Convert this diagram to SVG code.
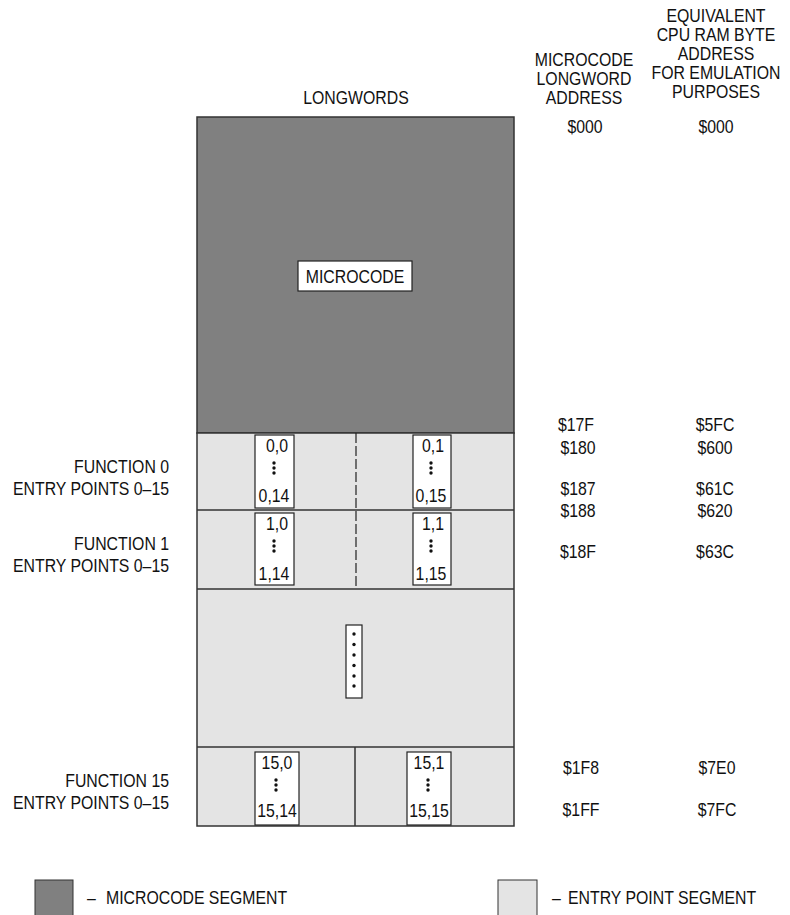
<svg xmlns="http://www.w3.org/2000/svg" width="790" height="915" viewBox="0 0 790 915">
<style>
text{font-family:"Liberation Sans",Arial,sans-serif;font-size:18px;fill:#111}
.m{text-anchor:middle}
.e{text-anchor:end}
.seg{stroke:#333;stroke-width:1.5}
.box{fill:#fff;stroke:#222;stroke-width:1.2}
.dot{fill:#111}
</style>
<defs>
<g id="dots3"><circle cx="0" cy="0" r="1.7" class="dot"/><circle cx="0" cy="5" r="1.7" class="dot"/><circle cx="0" cy="10" r="1.7" class="dot"/></g>
</defs>
<g id="headers">
<text class="m" transform="translate(356,104) scale(0.88,1)">LONGWORDS</text>
<text class="m" transform="translate(584,66) scale(0.88,1)">MICROCODE</text>
<text class="m" transform="translate(584,85) scale(0.88,1)">LONGWORD</text>
<text class="m" transform="translate(584,104) scale(0.88,1)">ADDRESS</text>
<text class="m" transform="translate(716,22) scale(0.88,1)">EQUIVALENT</text>
<text class="m" transform="translate(716,41) scale(0.88,1)">CPU RAM BYTE</text>
<text class="m" transform="translate(716,60) scale(0.88,1)">ADDRESS</text>
<text class="m" transform="translate(716,79) scale(0.88,1)">FOR EMULATION</text>
<text class="m" transform="translate(716,98) scale(0.88,1)">PURPOSES</text>
</g>
<g id="microcode-segment">
<rect x="197" y="117" width="317" height="316" fill="#808080" class="seg"/>
<rect x="298" y="261" width="114" height="30" class="box"/>
<text class="m" transform="translate(355,283) scale(0.88,1)">MICROCODE</text>
</g>
<g id="entry-segment">
<rect x="197" y="433" width="317" height="393" fill="#e4e4e4" class="seg"/>
</g>
<g id="connectors">
<line x1="197" y1="510" x2="514" y2="510" class="seg"/>
<line x1="197" y1="589" x2="514" y2="589" class="seg"/>
<line x1="197" y1="747" x2="514" y2="747" class="seg"/>
<line x1="356" y1="433" x2="356" y2="589" stroke="#222" stroke-width="1.2" stroke-dasharray="10,3"/>
<line x1="355" y1="747" x2="355" y2="826" class="seg"/>
</g>
<g id="f0e0">
<rect x="255" y="435" width="39" height="73" class="box"/>
<text class="m" transform="translate(277,452) scale(0.88,1)">0,0</text>
<use href="#dots3" x="274" y="463"/>
<text class="m" transform="translate(274,502) scale(0.88,1)">0,14</text>
</g>
<g id="f0e1">
<rect x="413" y="435" width="38" height="73" class="box"/>
<text class="m" transform="translate(433,452) scale(0.88,1)">0,1</text>
<use href="#dots3" x="431" y="463"/>
<text class="m" transform="translate(431,502) scale(0.88,1)">0,15</text>
</g>
<g id="f1e0">
<rect x="255" y="513" width="39" height="72" class="box"/>
<text class="m" transform="translate(277,530) scale(0.88,1)">1,0</text>
<use href="#dots3" x="274" y="541"/>
<text class="m" transform="translate(274,580) scale(0.88,1)">1,14</text>
</g>
<g id="f1e1">
<rect x="413" y="513" width="38" height="72" class="box"/>
<text class="m" transform="translate(433,530) scale(0.88,1)">1,1</text>
<use href="#dots3" x="431" y="541"/>
<text class="m" transform="translate(431,580) scale(0.88,1)">1,15</text>
</g>
<g id="ellipsis">
<rect x="346" y="625" width="16" height="73" class="box"/>
<circle cx="354" cy="634" r="1.7" class="dot"/>
<circle cx="354" cy="644.5" r="1.7" class="dot"/>
<circle cx="354" cy="655" r="1.7" class="dot"/>
<circle cx="354" cy="665.5" r="1.7" class="dot"/>
<circle cx="354" cy="676" r="1.7" class="dot"/>
<circle cx="354" cy="686" r="1.7" class="dot"/>
</g>
<g id="f15e0">
<rect x="255" y="752" width="44" height="73" class="box"/>
<text class="m" transform="translate(277,769) scale(0.88,1)">15,0</text>
<use href="#dots3" x="276" y="780"/>
<text class="m" transform="translate(277,817) scale(0.88,1)">15,14</text>
</g>
<g id="f15e1">
<rect x="407" y="752" width="44" height="73" class="box"/>
<text class="m" transform="translate(429,769) scale(0.88,1)">15,1</text>
<use href="#dots3" x="428" y="780"/>
<text class="m" transform="translate(429,817) scale(0.88,1)">15,15</text>
</g>
<g id="function-labels">
<text class="e" transform="translate(169,473) scale(0.88,1)">FUNCTION 0</text>
<text class="e" transform="translate(169,495) scale(0.88,1)">ENTRY POINTS 0–15</text>
<text class="e" transform="translate(169,550) scale(0.88,1)">FUNCTION 1</text>
<text class="e" transform="translate(169,572) scale(0.88,1)">ENTRY POINTS 0–15</text>
<text class="e" transform="translate(169,787) scale(0.88,1)">FUNCTION 15</text>
<text class="e" transform="translate(169,809) scale(0.88,1)">ENTRY POINTS 0–15</text>
</g>
<g id="addresses">
<text class="m" transform="translate(585,133) scale(0.88,1)">$000</text>
<text class="m" transform="translate(716,133) scale(0.88,1)">$000</text>
<text class="m" transform="translate(576,431) scale(0.88,1)">$17F</text>
<text class="m" transform="translate(715,431) scale(0.88,1)">$5FC</text>
<text class="m" transform="translate(578,454) scale(0.88,1)">$180</text>
<text class="m" transform="translate(715,454) scale(0.88,1)">$600</text>
<text class="m" transform="translate(578,495) scale(0.88,1)">$187</text>
<text class="m" transform="translate(715,495) scale(0.88,1)">$61C</text>
<text class="m" transform="translate(578,517) scale(0.88,1)">$188</text>
<text class="m" transform="translate(715,517) scale(0.88,1)">$620</text>
<text class="m" transform="translate(578,558) scale(0.88,1)">$18F</text>
<text class="m" transform="translate(715,558) scale(0.88,1)">$63C</text>
<text class="m" transform="translate(581,774) scale(0.88,1)">$1F8</text>
<text class="m" transform="translate(717,774) scale(0.88,1)">$7E0</text>
<text class="m" transform="translate(581,816) scale(0.88,1)">$1FF</text>
<text class="m" transform="translate(717,816) scale(0.88,1)">$7FC</text>
</g>
<g id="legend">
<rect x="35" y="880" width="38" height="40" fill="#808080" stroke="#333" stroke-width="1"/>
<text transform="translate(87,904) scale(0.88,1)">–</text>
<text transform="translate(106,904) scale(0.88,1)">MICROCODE SEGMENT</text>
<rect x="498" y="880" width="39" height="40" fill="#e4e4e4" stroke="#333" stroke-width="1"/>
<text transform="translate(552,904) scale(0.88,1)">–</text>
<text transform="translate(568,904) scale(0.88,1)">ENTRY POINT SEGMENT</text>
</g>
</svg>
